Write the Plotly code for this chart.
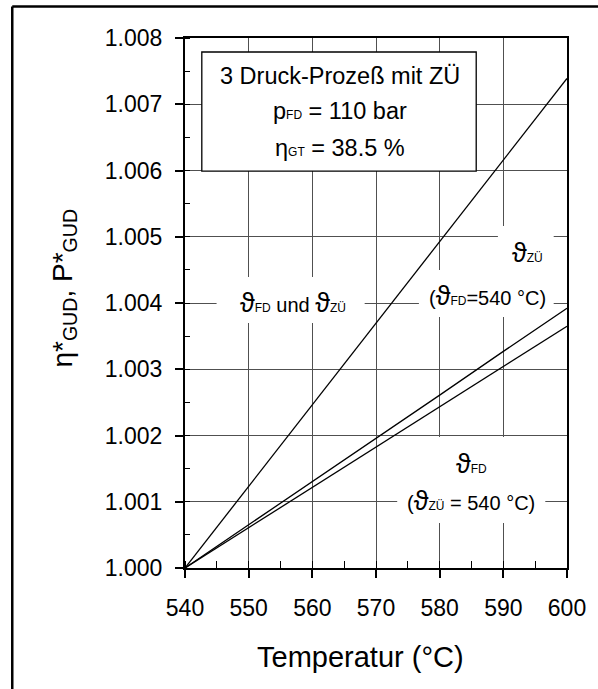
import plotly.graph_objects as go

# ---- data ----
temperature = [540, 550, 560, 570, 580, 590, 600]
eta_fd_und_zu = [1.00000, 1.00123, 1.00246, 1.00370, 1.00493, 1.00616, 1.00739]
eta_zu = [1.00000, 1.00065, 1.00131, 1.00196, 1.00261, 1.00327, 1.00392]
eta_fd = [1.00000, 1.00061, 1.00122, 1.00183, 1.00243, 1.00304, 1.00365]

x_range = [540, 600]
y_range = [1.000, 1.008]
x_tickvals = [540, 550, 560, 570, 580, 590, 600]
y_tickvals = [1.000, 1.001, 1.002, 1.003, 1.004, 1.005, 1.006, 1.007, 1.008]
y_ticktext = ["1.000", "1.001", "1.002", "1.003", "1.004", "1.005", "1.006", "1.007", "1.008"]

FONT = "Liberation Sans, Arial, sans-serif"
GRID = "#505050"

fig = go.Figure()
for ys in (eta_fd_und_zu, eta_zu, eta_fd):
    fig.add_trace(go.Scatter(x=temperature, y=ys, mode="lines",
                             line=dict(color="black", width=1.3),
                             showlegend=False, hoverinfo="skip"))

W, H = 598, 689
ml, mr, mt, mb = 185, 26, 38, 121
PW, PH = W - ml - mr, H - mt - mb

def px_x(px):
    return (px - ml) / PW

def px_y(py):
    return (H - mb - py) / PH

fig.update_layout(
    width=W, height=H,
    margin=dict(l=ml, r=mr, t=mt, b=mb, pad=0),
    paper_bgcolor="white", plot_bgcolor="white",
    font=dict(family=FONT, color="black", size=23),
    showlegend=False,
)

fig.update_xaxes(
    range=x_range, tickvals=x_tickvals, ticktext=[str(v) for v in x_tickvals],
    showgrid=True, gridcolor=GRID, gridwidth=1,
    showline=True, linecolor="black", linewidth=2, mirror=True,
    ticks="outside", ticklen=8, tickwidth=1.5, tickcolor="black",
    minor=dict(dtick=5, ticks="inside", ticklen=7, tickcolor="black", tickwidth=1.3, showgrid=False),
    tickfont=dict(size=23, family=FONT), ticklabelstandoff=10,
    zeroline=False,
)
fig.update_yaxes(
    range=y_range, tickvals=y_tickvals, ticktext=y_ticktext,
    showgrid=True, gridcolor=GRID, gridwidth=1,
    showline=True, linecolor="black", linewidth=2, mirror=True,
    ticks="outside", ticklen=8, tickwidth=1.5, tickcolor="black",
    minor=dict(dtick=0.0005, ticks="inside", ticklen=5, tickcolor="black", tickwidth=1.3, showgrid=False),
    tickfont=dict(size=23, family=FONT), ticklabelstandoff=8,
    zeroline=False,
)

# outer frame: only its left and top edges fall inside the picture
frame = dict(color="black", width=2.5)
fig.add_shape(type="line", xref="paper", yref="paper",
              x0=px_x(10), x1=px_x(10), y0=px_y(6.5), y1=px_y(760), line=frame, layer="above")
fig.add_shape(type="line", xref="paper", yref="paper",
              x0=px_x(10), x1=px_x(660), y0=px_y(6.5), y1=px_y(6.5), line=frame, layer="above")

# white label backgrounds covering the grid (below traces)
white_boxes = [
    (544.96, 568.22, 1.003698, 1.004392),
    (589.15, 597.91, 1.004498, 1.005162),
    (576.74, 597.91, 1.003789, 1.004498),
    (573.33, 596.59, 1.000679, 1.001977),
]
for x0, x1, y0, y1 in white_boxes:
    fig.add_shape(type="rect", xref="x", yref="y", x0=x0, x1=x1, y0=y0, y1=y1,
                  line=dict(width=0), fillcolor="white", layer="between")

# framed info box
fig.add_shape(type="rect", xref="x", yref="y", x0=542.64, x1=585.74, y0=1.005992, y1=1.007789,
              line=dict(color="black", width=1.3), fillcolor="white", layer="between")

def sm(t, s=12):
    return f'<span style="font-size:{s}px">{t}</span>'

def th(s=27):
    return f'<span style="font-size:{s}px">ϑ</span>'

annos = [
    (564.29, 1.007419, "3 Druck-Prozeß mit ZÜ", 23.5),
    (564.29, 1.006898, "p" + sm("FD") + " = 110 bar", 23.5),
    (564.29, 1.006347, "η" + sm("GT") + " = 38.5 %", 23.5),
    (556.9, 1.004000, th() + sm("FD") + " und " + th() + sm("ZÜ"), 20),
    (593.72, 1.004755, th() + sm("ZÜ"), 20),
    (587.52, 1.004106, "(" + th() + sm("FD") + "=540 °C)", 20),
    (584.96, 1.001570, th() + sm("FD"), 20),
    (584.96, 1.001011, "(" + th() + sm("ZÜ") + " = 540 °C)", 20),
]
for x, y, t, s in annos:
    fig.add_annotation(x=x, y=y, xref="x", yref="y", text=t, showarrow=False,
                       font=dict(size=s, family=FONT, color="black"),
                       xanchor="center", yanchor="middle")

# axis titles
fig.add_annotation(x=px_x(363), y=px_y(657), xref="paper", yref="paper", showarrow=False,
                   text="Temperatur (°C)", font=dict(size=29, family=FONT),
                   xanchor="center", yanchor="middle")
fig.add_annotation(x=px_x(62), y=px_y(288), xref="paper", yref="paper", showarrow=False,
                   textangle=-90, text="η*<sub>GUD</sub>, P*<sub>GUD</sub>",
                   font=dict(size=28, family=FONT), xanchor="center", yanchor="middle")

fig.write_html(
    "out.html", config={"displayModeBar": False},
    post_script=("document.body.style.margin='0';"
                 "document.body.style.overflow='hidden';"
                 "document.documentElement.style.overflow='hidden';"),
)
